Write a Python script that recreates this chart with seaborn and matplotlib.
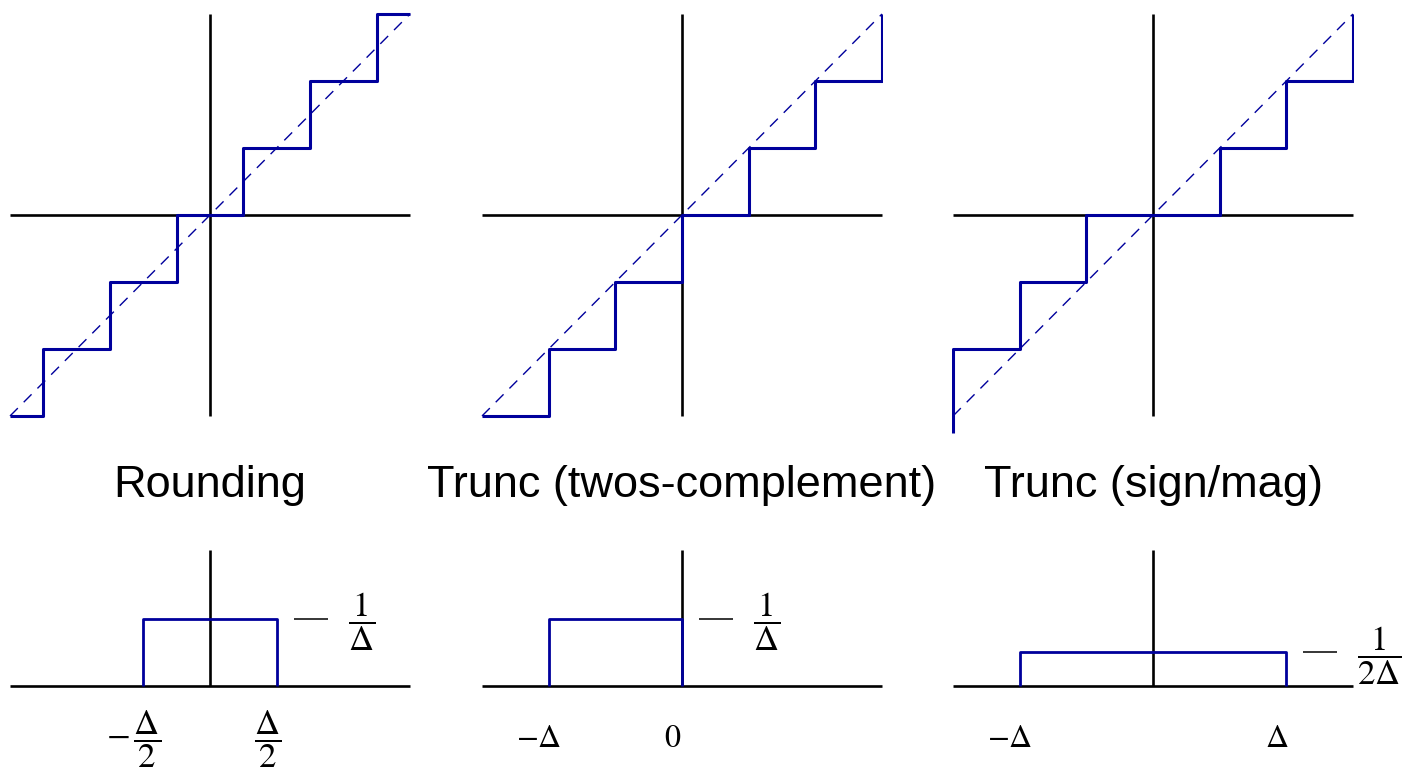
import matplotlib
matplotlib.use("Agg")
import matplotlib.pyplot as plt
from matplotlib import transforms
import seaborn as sns

sns.set_theme(style="white")
plt.rcParams["font.family"] = ["Liberation Sans", "DejaVu Sans"]
plt.rcParams["mathtext.fontset"] = "stix"
plt.rcParams["lines.solid_capstyle"] = "butt"

# ---- quantizer transfer characteristics (x and output in units of Delta) ----
titles = ["Rounding", "Trunc (twos-complement)", "Trunc (sign/mag)"]

round_x = [-3, -2.5, -1.5, -0.5, 0.5, 1.5, 2.5, 3]
round_y = [-3, -2, -1, 0, 1, 2, 3, 3]
twos_x = [-3, -2, -1, 0, 1, 2, 3]
twos_y = [-3, -2, -1, 0, 1, 2, 3]
sm_x = [-3, -3, -2, -1, 1, 2, 3]
sm_y = [-3.25, -2, -1, 0, 1, 2, 3]

ideal_x = [-3, 3]
ideal_y = [-3, 3]

# ---- error probability densities (x in units of Delta, height in 1/Delta) ----
round_pdf_x = [-0.5, -0.5, 0.5, 0.5]
round_pdf_y = [0, 1, 1, 0]
twos_pdf_x = [-1, -1, 0, 0]
twos_pdf_y = [0, 1, 1, 0]
sm_pdf_x = [-1, -1, 1, 1]
sm_pdf_y = [0, 0.5, 0.5, 0]

pdf_level_labels = [r"$\dfrac{1}{\Delta}$", r"$\dfrac{1}{\Delta}$", r"$\dfrac{1}{2\Delta}$"]
round_ticks = [-0.5, 0.5]
round_tick_labels = [r"$-\,\dfrac{\Delta}{2}$", r"$\dfrac{\Delta}{2}$"]
twos_ticks = [-1, 0]
twos_tick_labels = [r"$-\Delta$", r"$0$"]
sm_ticks = [-1, 1]
sm_tick_labels = [r"$-\Delta$", r"$\Delta$"]

BLUE = "#00009c"
W, H = 1418, 770
fig = plt.figure(figsize=(W / 100, H / 100), dpi=100)

centers = [210, 682, 1153]
half_w = 201

top_sets = [(round_x, round_y), (twos_x, twos_y), (sm_x, sm_y)]
pdf_sets = [(round_pdf_x, round_pdf_y), (twos_pdf_x, twos_pdf_y), (sm_pdf_x, sm_pdf_y)]
tick_sets = [(round_ticks, round_tick_labels), (twos_ticks, twos_tick_labels),
             (sm_ticks, sm_tick_labels)]
tick_sizes = [25, 23, 23]

# top axes: y range [-3.4, 3.1], 67 px per unit, y=3 at px 14
top_ylim = (-3.4, 3.1)
top_top_px = 14 - 0.1 * 67
top_h_px = (top_ylim[1] - top_ylim[0]) * 67
# bottom axes: y range [-0.1, 2.1], 67 px per unit, y=0 at px 686
bot_ylim = (-0.1, 2.1)
bot_top_px = 686 - 2.1 * 67
bot_h_px = (bot_ylim[1] - bot_ylim[0]) * 67

for i, c in enumerate(centers):
    left = (c - half_w) / W
    width = 2 * half_w / W

    # transfer characteristic
    ax = fig.add_axes([left, 1 - (top_top_px + top_h_px) / H, width, top_h_px / H])
    ax.set_xlim(-3 * 402 / 400, 3 * 402 / 400)
    ax.set_ylim(*top_ylim)
    ax.plot([-3, 3], [0, 0], color="black", lw=1.9, zorder=1)
    ax.plot([0, 0], [-3, 3], color="black", lw=1.9, zorder=1)
    ax.plot(ideal_x, ideal_y, color=BLUE, lw=1.0, ls=(0, (8, 6)), zorder=2)
    xs, ys = top_sets[i]
    sns.lineplot(x=xs, y=ys, ax=ax, estimator=None, sort=False,
                 drawstyle="steps-post", color=BLUE, linewidth=2.2, zorder=3)
    ax.axis("off")

    # panel title
    fig.text(c / W, 1 - 497 / H, titles[i], ha="center", va="baseline",
             fontsize=32.5, color="black")

    # error density
    bx = fig.add_axes([left, 1 - (bot_top_px + bot_h_px) / H, width, bot_h_px / H])
    bx.set_xlim(-1.5 * 402 / 400, 1.5 * 402 / 400)
    bx.set_ylim(*bot_ylim)
    bx.plot([-1.5, 1.5], [0, 0], color="black", lw=1.9, zorder=1)
    bx.plot([0, 0], [0, 2.03], color="black", lw=1.9, zorder=1)
    px_, py_ = pdf_sets[i]
    sns.lineplot(x=px_, y=py_, ax=bx, estimator=None, sort=False,
                 color=BLUE, linewidth=2.0, zorder=3)
    bx.axis("off")

    # level marker and its label beside the right edge of the density
    right = max(px_)
    level = max(py_)
    unit = 400 / 3.0
    bx.plot([right + 17 / unit, right + 51 / unit], [level, level],
            color="black", lw=1.1, zorder=2)
    lab_off = transforms.offset_copy(bx.transData, fig=fig, x=0, y=-3, units="dots")
    bx.text(right + 71 / unit, level, pdf_level_labels[i], transform=lab_off,
            ha="left", va="center", fontsize=25, color="black")

    # x tick labels below the baseline
    off = transforms.offset_copy(bx.transData, fig=fig, x=-9.5, y=-53, units="dots")
    tks, tls = tick_sets[i]
    for t, lab in zip(tks, tls):
        bx.text(t, 0, lab, transform=off, ha="center", va="center",
                fontsize=tick_sizes[i], color="black")

fig.savefig("out.png", dpi=100)
